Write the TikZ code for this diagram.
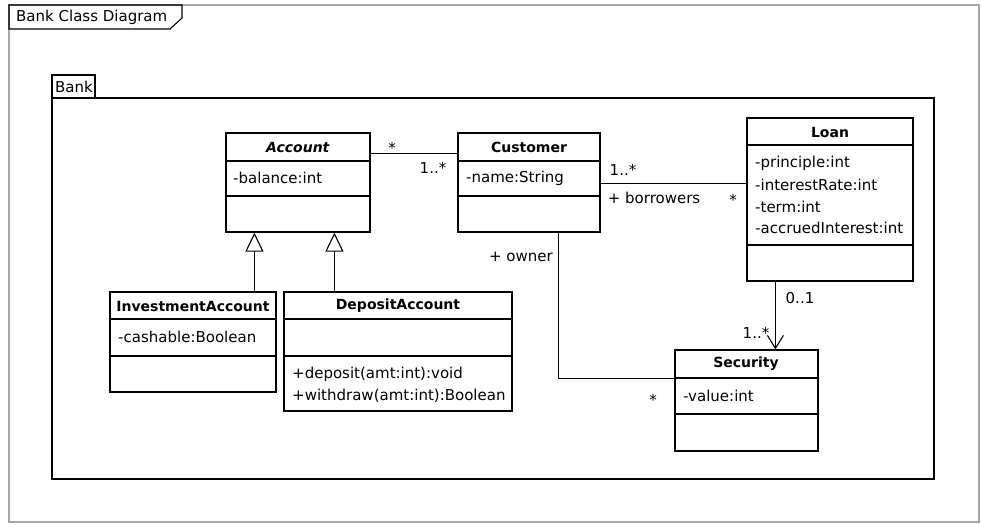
\documentclass[tikz,border=0pt]{standalone}
\usepackage{fontspec}
\setmainfont{DejaVu Sans}
\usetikzlibrary{arrows.meta}
\usetikzlibrary{fit}

\begin{document}
\begin{tikzpicture}[x=1pt, y=-1pt,
    font=\fontsize{15}{18}\selectfont,
    classbox/.style={draw, line width=1.2pt, inner sep=0pt},
    divider/.style={line width=1.2pt},
    clsname/.style={font=\fontsize{14}{17}\selectfont\bfseries},
    member/.style={anchor=west, inner sep=0pt},
    mult/.style={inner sep=0pt},
    assoc/.style={line width=1.1pt},
    inherit/.style={line width=1.1pt, -{Triangle[open, length=19pt, width=18pt]}},
    navig/.style={line width=1.1pt, -{Straight Barb[length=13pt, width=16pt]}}]
    \useasboundingbox (0,0) rectangle (981,524);

    % diagram frame
    \draw[line width=1.5pt, black!35] (9,5) rectangle (979,522);
    \draw[line width=1.1pt] (9,5) -- (182,5) -- (182,18) -- (170,29) -- (9,29) -- cycle;
    \node[member] (title) at (16,17) {Bank Class Diagram};

    % package
    \draw[line width=1.2pt] (52,98) rectangle (934,479);
    \draw[line width=1.2pt] (52,98) -- (52,75) -- (95,75) -- (95,98);
    \node[member] (pkg) at (55,87) {Bank};

    % classes
    \node[classbox, fit={(226,133) (370,232)}] (acc) {};
    \draw[divider] (acc.west |- 0,161) -- (acc.east |- 0,161);
    \draw[divider] (acc.west |- 0,196) -- (acc.east |- 0,196);
    \node[clsname] (accname) at (298,147) {\textit{Account}};
    \node[member] (accbal) at (233,178) {-balance:int};

    \node[classbox, fit={(458,133) (600,232)}] (cust) {};
    \draw[divider] (cust.west |- 0,161) -- (cust.east |- 0,161);
    \draw[divider] (cust.west |- 0,196) -- (cust.east |- 0,196);
    \node[clsname] (custname) at (529,147) {Customer};
    \node[member] (custattr) at (466,178) {-name:String};

    \node[classbox, fit={(747,118) (913,281)}] (loan) {};
    \draw[divider] (loan.west |- 0,145) -- (loan.east |- 0,145);
    \draw[divider] (loan.west |- 0,245) -- (loan.east |- 0,245);
    \node[clsname] (loanname) at (830,132) {Loan};
    \node[member] (loanp) at (755,163) {-principle:int};
    \node[member] (loanr) at (755,185) {-interestRate:int};
    \node[member] (loant) at (755,207) {-term:int};
    \node[member] (loana) at (755,228) {-accruedInterest:int};

    \node[classbox, fit={(675,350) (818,451)}] (sec) {};
    \draw[divider] (sec.west |- 0,378) -- (sec.east |- 0,378);
    \draw[divider] (sec.west |- 0,414) -- (sec.east |- 0,414);
    \node[clsname] (secname) at (746,364) {Security};
    \node[member] (secval) at (683,396) {-value:int};

    \node[classbox, fit={(110,292) (276,392)}] (inv) {};
    \draw[divider] (inv.west |- 0,319) -- (inv.east |- 0,319);
    \draw[divider] (inv.west |- 0,356) -- (inv.east |- 0,356);
    \node[clsname] (invname) at (193,306) {InvestmentAccount};
    \node[member] (invattr) at (118,337) {-cashable:Boolean};

    \node[classbox, fit={(284,292) (512,411)}] (dep) {};
    \draw[divider] (dep.west |- 0,319) -- (dep.east |- 0,319);
    \draw[divider] (dep.west |- 0,356) -- (dep.east |- 0,356);
    \node[clsname] (depname) at (398,306) {DepositAccount};
    \node[member] (depin) at (292,374) {+deposit(amt:int):void};
    \node[member] (depout) at (292,396) {+withdraw(amt:int):Boolean};

    % associations
    \draw[assoc] ([yshift=-21pt]acc.north east) -- ([yshift=-21pt]cust.north west);
    \node[mult] at (392,148) {*};
    \node[mult] at (433,168) {1..*};

    \draw[assoc] ([yshift=-51pt]cust.north east) -- ([yshift=-66pt]loan.north west);
    \node[mult] at (623,170) {1..*};
    \node[mult] at (654,198) {+ borrowers};
    \node[mult] at (733,200) {*};

    \draw[navig] ([xshift=29pt]loan.south west) -- ([xshift=101pt]sec.north west);
    \node[mult] at (800,298) {0..1};
    \node[mult] at (756,333) {1..*};

    \draw[assoc] ([xshift=101pt]cust.south west) |- ([yshift=-29pt]sec.north west);
    \node[mult] at (521,257) {+ owner};
    \node[mult] at (653,400) {*};

    % generalizations
    \draw[inherit] ([xshift=145pt]inv.north west) -- ([xshift=29pt]acc.south west);
    \draw[inherit] ([xshift=51pt]dep.north west) -- ([xshift=109pt]acc.south west);
\end{tikzpicture}
\end{document}
